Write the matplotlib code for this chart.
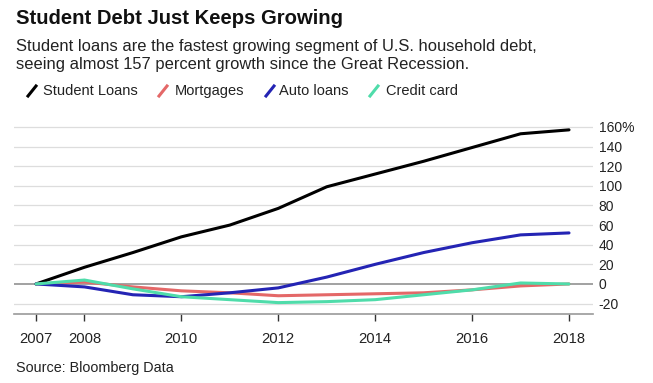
import matplotlib
matplotlib.use("Agg")
import matplotlib.pyplot as plt
from matplotlib.lines import Line2D

plt.rcParams["font.family"] = ["Liberation Sans", "DejaVu Sans"]

# data (percent change since 2007)
years = [2007, 2008, 2009, 2010, 2011, 2012, 2013, 2014, 2015, 2016, 2017, 2018]
student = [0, 17, 32, 48, 60, 77, 99, 112, 125, 139, 153, 157]
mortgage = [0, 2, -3, -7, -9, -12, -11, -10, -9, -6, -2, 0]
auto = [0, -3, -11, -13, -9, -4, 7, 20, 32, 42, 50, 52]
credit = [0, 4, -5, -13, -16, -19, -18, -16, -11, -6, 1, 0]

names = ["Student Loans", "Mortgages", "Auto loans", "Credit card"]
colors = ["#000000", "#e46868", "#2424b4", "#4fdcaa"]
series = [student, mortgage, auto, credit]

yticks = [-20, 0, 20, 40, 60, 80, 100, 120, 140, 160]
ylabels = ["-20", "0", "20", "40", "60", "80", "100", "120", "140", "160%"]
xticks = [2007, 2008, 2010, 2012, 2014, 2016, 2018]

fig = plt.figure(figsize=(6.53, 3.83), dpi=100)
ax = fig.add_axes([14 / 653, 69 / 383, 579 / 653, 192 / 383])

for yv in yticks:
    if yv == 0:
        ax.axhline(yv, color="#888888", lw=1.1, zorder=1)
    else:
        ax.axhline(yv, color="#dddddd", lw=0.9, zorder=1)

for i in range(4):
    ax.plot(years, series[i], color=colors[i], lw=2.2, zorder=3, solid_capstyle="round")

ax.set_xlim(2006.546, 2018.495)
ax.set_ylim(-30.6, 165)

ax.yaxis.tick_right()
ax.set_yticks(yticks)
ax.set_yticklabels(ylabels)
ax.tick_params(axis="y", length=0, pad=4, labelsize=10, labelcolor="#222222")

ax.set_xticks(xticks)
ax.set_xticklabels([str(x) for x in xticks])
ax.tick_params(axis="x", direction="out", length=5, width=1, color="#333333",
               pad=8, labelsize=10.6, labelcolor="#222222")

for s in ["top", "left", "right"]:
    ax.spines[s].set_visible(False)
ax.spines["bottom"].set_color("#999999")
ax.spines["bottom"].set_linewidth(1.2)

# title, subtitle
fig.text(16 / 653, 1 - 19 / 383, "Student Debt Just Keeps Growing", fontsize=14.6,
         fontweight="bold", va="center", ha="left", color="#111111")
fig.text(16 / 653, 1 - 47 / 383,
         "Student loans are the fastest growing segment of U.S. household debt,",
         fontsize=11.9, va="center", ha="left", color="#222222")
fig.text(16 / 653, 1 - 64 / 383,
         "seeing almost 157 percent growth since the Great Recession.",
         fontsize=11.9, va="center", ha="left", color="#222222")

# legend with slanted markers
mark_x = [28, 159, 266, 370]
text_x = [43, 175, 279, 386]
for i in range(4):
    x0 = mark_x[i]
    fig.add_artist(Line2D([x0 / 653, (x0 + 8) / 653],
                          [1 - 96 / 383, 1 - 86 / 383],
                          color=colors[i], lw=2.2, transform=fig.transFigure))
    fig.text(text_x[i] / 653, 1 - 91 / 383, names[i], fontsize=10.5,
             va="center", ha="left", color="#222222")

fig.text(16 / 653, 1 - 368 / 383, "Source: Bloomberg Data", fontsize=10.4,
         va="center", ha="left", color="#222222")

fig.savefig("out.png", dpi=100)
